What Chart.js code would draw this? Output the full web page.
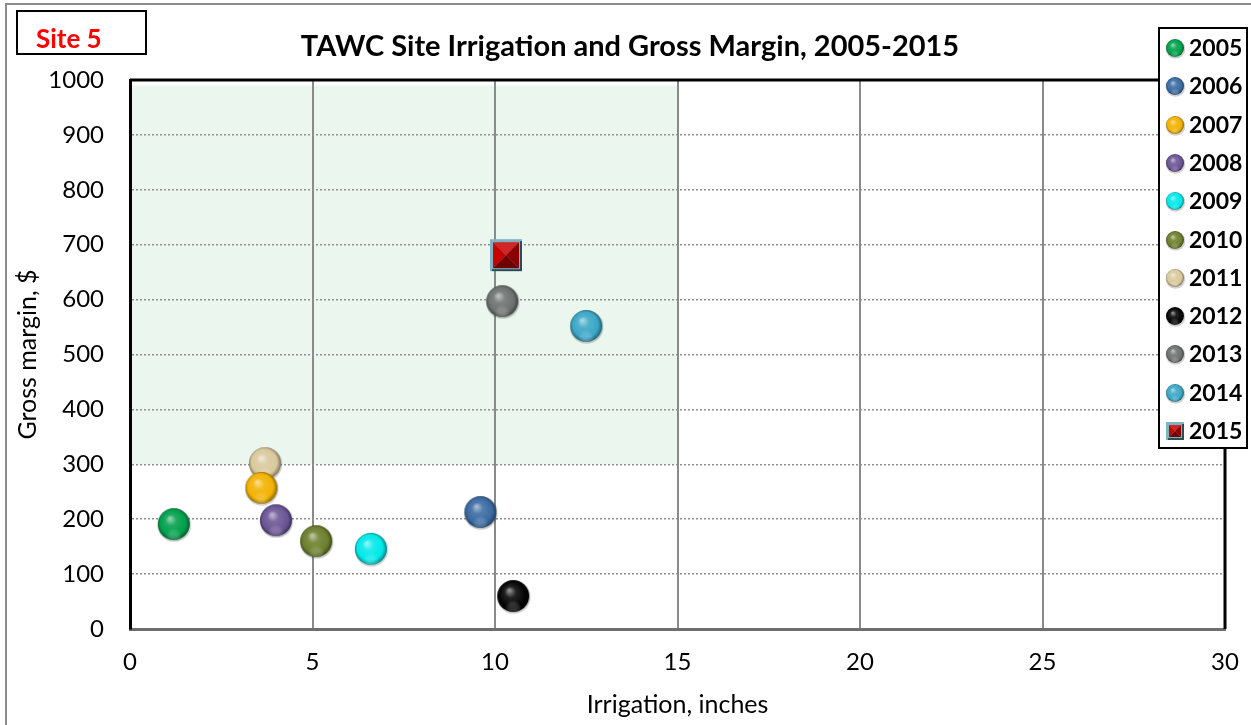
<!DOCTYPE html>
<html>
<head>
<meta charset="utf-8">
<script src="https://cdn.jsdelivr.net/npm/chart.js@4/dist/chart.umd.min.js"></script>
<style>
  html, body { margin:0; padding:0; background:#fff; }
  #wrap { position:relative; width:1251px; height:725px; overflow:hidden; font-family: Lato, "Open Sans", sans-serif; }
  #frame { position:absolute; left:5px; top:3px; width:1270px; height:740px; border:2px solid #8c8c8c; box-sizing:border-box; pointer-events:none; }
  #title { position:absolute; left:0; top:27px; width:1260px; text-align:center; font-weight:bold; font-size:29px; line-height:36px; color:#000; white-space:nowrap; }
  #site { position:absolute; left:16px; top:10px; width:131px; height:45px; border:2px solid #000; box-sizing:border-box; background:#fff; }
  #site span { position:absolute; left:18px; top:11px; color:#ff0000; font-weight:bold; font-size:26px; line-height:30px; }
  #legend { position:absolute; left:1158px; top:27px; width:90px; height:422px; border:2px solid #000; box-sizing:border-box; background:#fff; }
  .row { position:absolute; left:0; height:38px; width:86px; }
  .row canvas { position:absolute; }
  .row span { position:absolute; left:29px; top:4px; font-weight:bold; font-size:23px; color:#000; line-height:28px; }
  canvas#c { position:absolute; left:0; top:0; }
</style>
</head>
<body>
<div id="wrap">
  <canvas id="c" width="1251" height="725"></canvas>
  <div id="frame"></div>
  <div id="title"></div>
  <div id="site"><span>Site 5</span></div>
  <div id="legend"></div>
</div>
<script>
// ---- data ----
const years = ["2005","2006","2007","2008","2009","2010","2011","2012","2013","2014","2015"];
const irrigation = [1.2, 9.6, 3.6, 4.0, 6.6, 5.1, 3.7, 10.5, 10.2, 12.5, 10.3];
const grossMargin = [191, 213, 257, 198, 146, 160, 302, 60, 597, 552, 681];
const colors = ["#00a04c","#3a6aa2","#f2b200","#6a5494","#00e8e8","#6b7f2c","#d9c99c","#050505","#6d7270","#3aa6c6","#c80000"];
const markerKinds = ["sphere","sphere","sphere","sphere","sphere","sphere","sphere","sphere","sphere","sphere","square"];
const xTicks = [0,5,10,15,20,25,30];
const yTicks = [0,100,200,300,400,500,600,700,800,900,1000];
const titleText = "TAWC Site Irrigation and Gross Margin, 2005-2015";
const xTitle = "Irrigation, inches";
const yTitle = "Gross margin, $";
const targetZone = { xMin: 0, xMax: 15, yMin: 300, yMax: 990 };

document.getElementById('title').textContent = titleText;

// ---- marker images ----
function hexToRgb(h){ h=h.replace('#',''); return [parseInt(h.substr(0,2),16),parseInt(h.substr(2,2),16),parseInt(h.substr(4,2),16)]; }
function mix(rgb, t, target){ return 'rgb('+rgb.map((v,i)=>Math.round(v+(target[i]-v)*t)).join(',')+')'; }
function makeSphere(color, r){
  const c = document.createElement('canvas');
  const s = Math.ceil(2*r+4); c.width=s; c.height=s;
  const g = c.getContext('2d');
  const cx=s/2, cy=s/2; const rgb=hexToRgb(color);
  g.beginPath(); g.arc(cx+0.5, cy+1, r+0.8, 0, Math.PI*2); g.fillStyle='rgba(0,0,0,0.18)'; g.fill();
  const grad = g.createRadialGradient(cx-r*0.25, cy-r*0.35, r*0.05, cx, cy, r*1.05);
  grad.addColorStop(0, mix(rgb,0.55,[255,255,255]));
  grad.addColorStop(0.3, mix(rgb,0.12,[255,255,255]));
  grad.addColorStop(0.75, color);
  grad.addColorStop(1, mix(rgb,0.5,[0,0,0]));
  g.beginPath(); g.arc(cx, cy, r, 0, Math.PI*2); g.fillStyle=grad; g.fill();
  const g2 = g.createRadialGradient(cx, cy+r*0.75, 0, cx, cy+r*0.75, r*0.5);
  g2.addColorStop(0, mix(rgb,0.35,[255,255,255]).replace('rgb','rgba').replace(')',',0.45)'));
  g2.addColorStop(1, 'rgba(255,255,255,0)');
  g.beginPath(); g.arc(cx, cy, r, 0, Math.PI*2); g.fillStyle=g2; g.fill();
  return c;
}
function makeSquare(color, size){
  const c = document.createElement('canvas');
  c.width=size+2; c.height=size+2;
  const g = c.getContext('2d'); const rgb=hexToRgb(color);
  const o=1, b=3, L=o+b, R=o+size-b, T=o+b, B=o+size-b, mx=o+size/2, my=o+size/2;
  g.fillStyle='#7fb3c4'; g.fillRect(o,o,size,size);
  g.fillStyle='#2d4a55'; g.fillRect(o+size-2,o+2,2,size-2); g.fillRect(o+2,o+size-2,size-2,2);
  const tri=(pts,col)=>{ g.beginPath(); g.moveTo(pts[0],pts[1]); g.lineTo(pts[2],pts[3]); g.lineTo(pts[4],pts[5]); g.closePath(); g.fillStyle=col; g.fill(); };
  tri([L,T,R,T,mx,my], mix(rgb,0.15,[255,255,255]));
  tri([L,T,L,B,mx,my], color);
  tri([R,T,R,B,mx,my], mix(rgb,0.3,[0,0,0]));
  tri([L,B,R,B,mx,my], mix(rgb,0.45,[0,0,0]));
  return c;
}
function marker(i, big){
  if (markerKinds[i]==='square') return makeSquare(colors[i], big?32:18);
  return makeSphere(colors[i], big?16:9);
}

// ---- legend (HTML, built from arrays) ----
const leg = document.getElementById('legend');
years.forEach((y,i)=>{
  const row=document.createElement('div'); row.className='row'; row.style.top=(i*38.3)+'px';
  const m = marker(i,false);
  m.style.left=(16-m.width/2-1)+'px'; m.style.top=(19-m.height/2)+'px';
  row.appendChild(m);
  const t=document.createElement('span'); t.textContent=y; row.appendChild(t);
  leg.appendChild(row);
});

// ---- plugins ----
const zonePlugin = {
  id:'zone',
  beforeDraw(chart){
    const {ctx, scales:{x,y}} = chart;
    ctx.save();
    ctx.fillStyle='#ebf7ee';
    const x0=x.getPixelForValue(targetZone.xMin), x1=x.getPixelForValue(targetZone.xMax);
    const y0=y.getPixelForValue(targetZone.yMax), y1=y.getPixelForValue(targetZone.yMin);
    ctx.fillRect(x0,y0,x1-x0,y1-y0);
    ctx.restore();
  }
};
const framePlugin = {
  id:'plotframe',
  beforeDatasetsDraw(chart){
    const {ctx, chartArea:a} = chart;
    ctx.save();
    ctx.strokeStyle='#000'; ctx.lineWidth=3;
    ctx.beginPath(); ctx.moveTo(a.left, a.top); ctx.lineTo(a.right, a.top); ctx.lineTo(a.right, a.bottom); ctx.stroke();
    ctx.restore();
  }
};

const datasets = years.map((y,i)=>({
  label:y,
  data:[{x:irrigation[i], y:grossMargin[i]}],
  pointStyle: marker(i,true),
  pointRadius: 16,
  pointHoverRadius: 16,
  backgroundColor: colors[i],
  borderColor: colors[i],
  showLine:false
}));

const fam = 'Lato, "Open Sans", sans-serif';
const tickFont = { family:fam, size:24 };
new Chart(document.getElementById('c'), {
  type:'scatter',
  data:{ datasets },
  options:{
    responsive:false,
    animation:false,
    events:[],
    layout:{ padding:{ left:0, right:26, top:80, bottom:0 } },
    plugins:{
      legend:{ display:false },
      tooltip:{ enabled:false },
      title:{ display:false }
    },
    scales:{
      x:{
        type:'linear', min:0, max:30,
        afterBuildTicks(s){ s.ticks = xTicks.map(v=>({value:v})); },
        afterFit(s){ s.height = 96; s.paddingRight = 0; s.paddingLeft = 0; },
        ticks:{ color:'#000', font:tickFont, padding:19, maxRotation:0, callback:(v)=>String(v) },
        grid:{ drawTicks:false, lineWidth:2,
          color:(c)=> (c.tick && (c.tick.value===0 || c.tick.value===30)) ? 'rgba(0,0,0,0)' : '#8a8a8a' },
        border:{ display:true, color:'#6e6e6e', width:3 },
        title:{ display:true, text:xTitle, color:'#000', font:{ family:fam, size:25 }, padding:{ top:0, bottom:5 } }
      },
      y:{
        type:'linear', min:0, max:1000,
        afterBuildTicks(s){ s.ticks = yTicks.map(v=>({value:v})); },
        afterFit(s){ s.width = 130; s.paddingTop = 0; s.paddingBottom = 0; },
        ticks:{ color:'#000', font:tickFont, padding:26, callback:(v)=>String(v) },
        grid:{ drawTicks:false, lineWidth:1.5,
          color:(c)=> (c.tick && (c.tick.value===0 || c.tick.value===1000)) ? 'rgba(0,0,0,0)' : '#8f8f8f' },
        border:{ display:true, color:'#000', width:3, dash:[2,2] },
        title:{ display:true, text:yTitle, color:'#000', font:{ family:fam, size:25 }, padding:{ top:13, bottom:0 } }
      }
    }
  },
  plugins:[zonePlugin, framePlugin]
});
</script>
</body>
</html>
